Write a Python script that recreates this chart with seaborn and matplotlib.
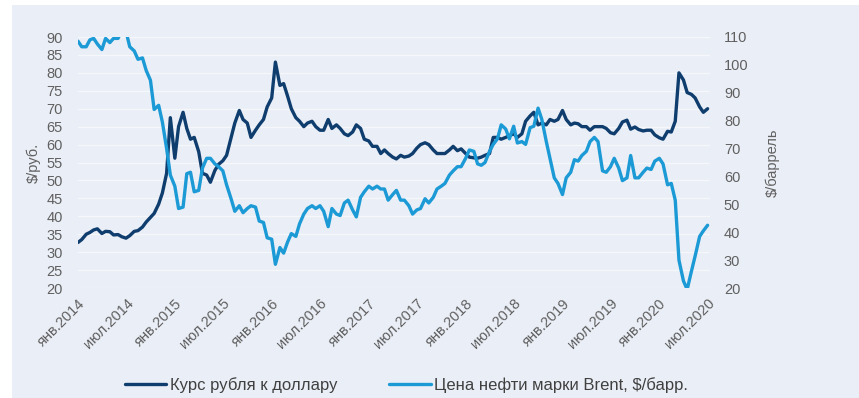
import pandas as pd
import numpy as np
import matplotlib
matplotlib.use("Agg")
import matplotlib.pyplot as plt
import seaborn as sns
from matplotlib.patches import Rectangle
from matplotlib.lines import Line2D

# semi-monthly points, 1st and 15th of each month
dates = pd.date_range("2014-01-01", "2020-07-01", freq="SMS")

usd_rub = [
    # 2014
    32.7, 33.5, 35.0, 35.5, 36.2, 36.5, 35.2, 35.8, 35.7, 34.8, 34.9, 34.3,
    33.9, 34.6, 35.8, 36.0, 37.0, 38.4, 39.7, 40.8, 43.4, 46.5, 52.0, 67.5,
    # 2015
    56.2, 65.0, 69.0, 64.5, 61.5, 62.0, 58.0, 52.0, 51.5, 49.5, 52.8, 54.5,
    55.5, 57.0, 62.0, 66.0, 69.5, 67.0, 66.0, 62.0, 64.0, 65.5, 67.0, 70.5,
    # 2016
    73.0, 83.0, 76.5, 77.0, 73.5, 70.0, 67.5, 66.5, 65.0, 66.0, 66.5, 65.0,
    64.0, 64.0, 67.0, 64.5, 65.5, 64.5, 63.0, 62.5, 63.5, 65.5, 64.5, 61.5,
    # 2017
    61.0, 59.5, 59.5, 57.5, 58.5, 57.5, 56.5, 56.0, 57.0, 56.5, 56.8, 57.5,
    59.0, 60.0, 60.5, 60.0, 58.5, 57.5, 57.5, 57.5, 58.5, 59.5, 58.3, 58.8,
    # 2018
    57.5, 56.5, 56.3, 56.2, 56.5, 57.0, 57.5, 62.0, 62.0, 61.5, 62.0, 62.5,
    63.0, 62.0, 63.0, 66.5, 68.0, 69.0, 65.5, 66.0, 65.5, 67.0, 66.5, 67.0,
    # 2019
    69.5, 67.0, 65.5, 66.0, 65.8, 65.0, 65.0, 64.0, 65.0, 65.0, 65.0, 64.5,
    63.3, 63.0, 64.5, 66.3, 66.8, 64.3, 64.9, 64.2, 63.8, 64.0, 64.0, 62.7,
    # 2020
    61.9, 61.5, 63.7, 63.5, 66.5, 80.0, 78.0, 74.5, 74.0, 73.0, 70.5, 69.0,
    70.0,
]

brent = [
    # 2014
    108.5, 106.5, 106.5, 109.0, 109.5, 107.5, 105.5, 109.5, 108.0, 109.5, 109.5, 112.5,
    112.0, 106.5, 105.0, 102.0, 102.5, 98.0, 94.5, 84.0, 85.5, 79.5, 70.0, 60.5,
    # 2015
    56.5, 48.5, 49.0, 61.0, 61.5, 54.5, 55.0, 63.0, 66.5, 66.5, 64.5, 63.5,
    62.0, 57.0, 52.0, 47.5, 49.5, 47.0, 48.5, 49.5, 49.0, 44.0, 43.5, 38.0,
    # 2016
    37.5, 28.5, 34.5, 32.5, 36.5, 39.5, 38.5, 43.0, 46.5, 48.5, 49.5, 48.5,
    49.5, 47.5, 42.0, 48.5, 46.5, 46.0, 50.5, 51.5, 48.0, 45.5, 52.5, 54.5,
    # 2017
    56.5, 55.5, 56.5, 55.5, 55.5, 51.5, 53.5, 55.0, 51.5, 51.5, 49.5, 46.5,
    48.0, 48.5, 52.0, 50.5, 52.5, 55.5, 56.5, 57.5, 60.5, 62.0, 63.5, 63.5,
    # 2018
    66.5, 69.5, 69.0, 64.5, 64.0, 65.0, 69.0, 71.5, 73.5, 78.5, 77.0, 73.5,
    78.0, 72.0, 72.5, 71.5, 77.5, 78.0, 84.5, 80.5, 72.5, 66.5, 59.5, 57.5,
    # 2019
    53.5, 59.5, 61.5, 66.0, 65.5, 67.5, 69.0, 72.5, 74.0, 72.5, 62.0, 61.5,
    63.5, 66.5, 63.0, 58.5, 59.5, 67.5, 59.5, 59.5, 61.5, 63.0, 62.5, 65.5,
    # 2020
    66.5, 64.5, 57.0, 57.5, 51.5, 30.0, 22.5, 19.5, 26.0, 31.5, 38.5, 40.5,
    42.5,
]

tick_dates = pd.date_range("2014-01-01", "2020-07-01", freq="6MS")
tick_labels = [
    "янв.2014", "июл.2014", "янв.2015", "июл.2015", "янв.2016", "июл.2016",
    "янв.2017", "июл.2017", "янв.2018", "июл.2018", "янв.2019", "июл.2019",
    "янв.2020", "июл.2020",
]

label_usd = "Курс рубля к доллару"
label_brent = "Цена нефти марки Brent, $/барр."

df = pd.DataFrame({"date": dates, "usd": usd_rub, "brent": brent})

sns.set_style("white")
plt.rcParams["font.family"] = ["Liberation Sans", "DejaVu Sans"]

bg = "#EAEEF6"
dark = "#0E3D6E"
light = "#1B9AD6"
txt = "#606060"

fig = plt.figure(figsize=(8.59, 3.98), dpi=100, facecolor="white")
fig.patches.append(Rectangle((12 / 859, 0), 1, 393 / 398, transform=fig.transFigure,
                             facecolor=bg, edgecolor="none", zorder=-10))

ax = fig.add_axes([78 / 859, 110 / 398, 632 / 859, 251 / 398])
ax.set_facecolor("none")
ax2 = ax.twinx()

sns.lineplot(data=df, x="date", y="usd", ax=ax, color=dark, linewidth=2.4)
sns.lineplot(data=df, x="date", y="brent", ax=ax2, color=light, linewidth=2.4)

ax.set_ylim(20, 90)
ax.set_yticks(np.arange(20, 91, 5))
ax2.set_ylim(20, 110)
ax2.set_yticks(np.arange(20, 111, 10))
ax.set_xlim(pd.Timestamp("2014-01-01"), pd.Timestamp("2020-07-10"))

ax.grid(axis="y", color="#F5F7FB", linewidth=0.9)
ax.set_axisbelow(True)

ax.set_xticks(tick_dates)
ax.set_xticklabels(tick_labels, rotation=45, ha="right", rotation_mode="anchor")

for a in (ax, ax2):
    for s in a.spines.values():
        s.set_visible(False)
    a.tick_params(length=0, labelsize=10.5, colors=txt)
ax.tick_params(axis="x", pad=6)
ax.tick_params(axis="y", pad=11)
ax2.tick_params(axis="y", pad=10)

ax.set_xlabel("")
ax.set_ylabel("$/руб.", color=txt, fontsize=10.5, labelpad=4)
ax2.set_ylabel("$/баррель", color=txt, fontsize=10.5, rotation=90, labelpad=12)

handles = [Line2D([], [], color=dark, linewidth=2.4),
           Line2D([], [], color=light, linewidth=2.4)]
fig.legend(handles, [label_usd, label_brent], loc="center", ncol=2,
           bbox_to_anchor=(0.473, 0.033), frameon=False, fontsize=12,
           handlelength=2.5, handletextpad=0.2, columnspacing=3.1,
           labelcolor="#404040")

fig.savefig("out.png", dpi=100, facecolor="white")
